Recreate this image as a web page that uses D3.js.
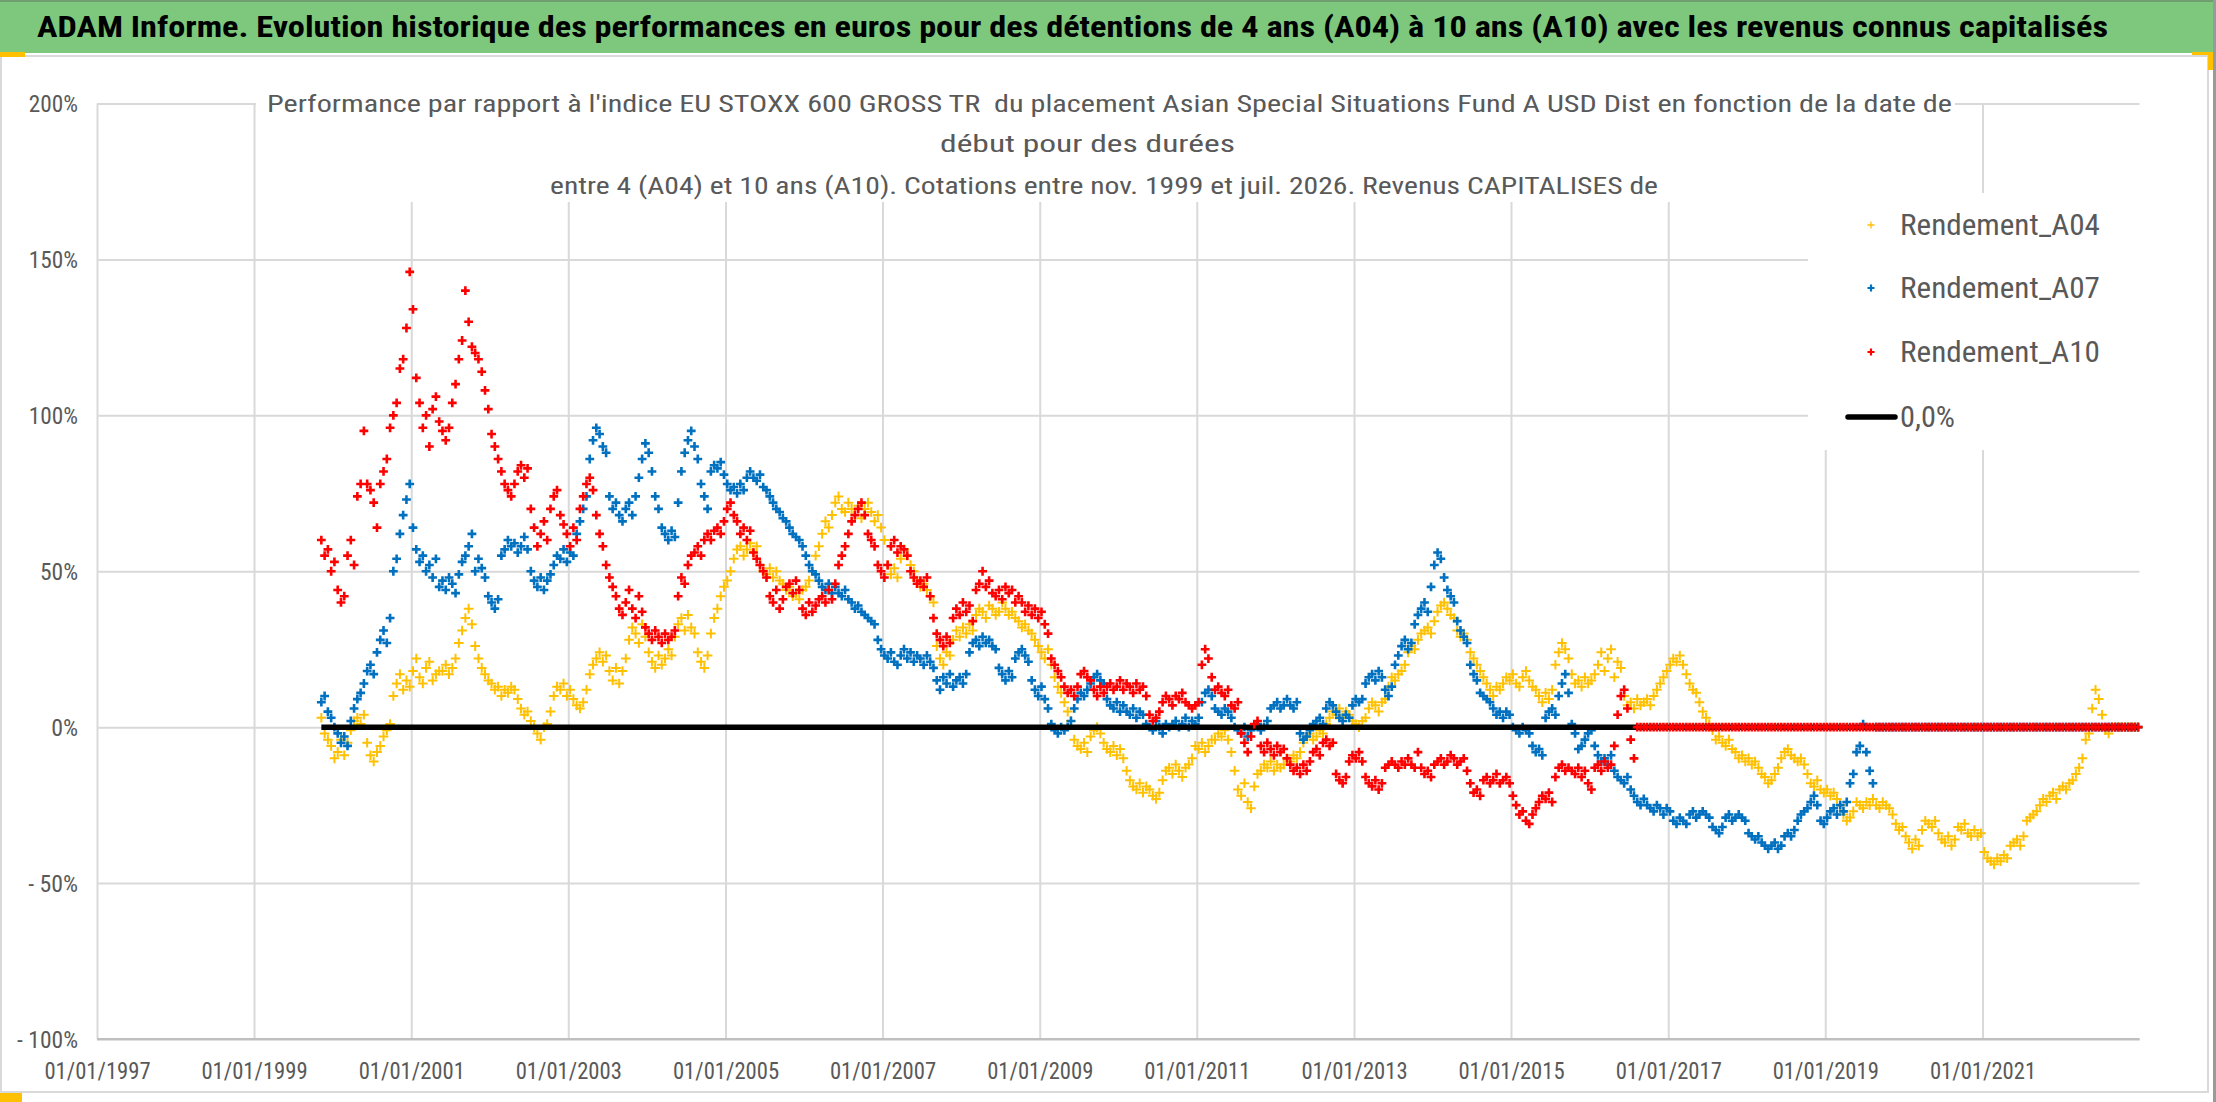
<!DOCTYPE html>
<html><head><meta charset="utf-8">
<script src="https://cdn.jsdelivr.net/npm/d3@7/dist/d3.min.js"></script>
<style>
html,body{margin:0;padding:0;background:#fff;}
svg{display:block;}
text{white-space:pre;}
</style></head>
<body>
<svg id="chart" width="2216" height="1102"></svg>
<script>
// ---------------- DATA ----------------
const titleText = "ADAM Informe. Evolution historique des performances en euros pour des détentions de 4 ans (A04) à 10 ans (A10) avec les revenus connus capitalisés";
const subtitleLines = [
  "Performance par rapport à l'indice EU STOXX 600 GROSS TR  du placement Asian Special Situations Fund A USD Dist en fonction de la date de",
  "début pour des durées",
  "entre 4 (A04) et 10 ans (A10). Cotations entre nov. 1999 et juil. 2026. Revenus CAPITALISES de"
];
const seriesNames = ["Rendement_A04", "Rendement_A07", "Rendement_A10"];
const zeroLineName = "0,0%";
const xTickLabels = ["1997-01-01","1999-01-01","2001-01-01","2003-01-01","2005-01-01","2007-01-01","2009-01-01","2011-01-01","2013-01-01","2015-01-01","2017-01-01","2019-01-01","2021-01-01"];
const yTickValues = [-100, -50, 0, 50, 100, 150, 200];
const xDomain = ["1997-01-01", "2023-01-01"];
const yDomain = [-100, 200];
// observations every half month from the first quotation
const firstObservation = "1999-11-10";
const observationStepDays = 365.25 / 24;

const rendementA04 = [
 3,-2,-4, -6,-10,-8,-4, -9,-5,-1,2, 3,1,4, -5,-9,-11,-8,-6,-3, -1,1,
 10,14,17,12,15,13, 18,22,16,14,19,21,15,17,18, 18,20,17,19,22, 27,31,35,38,33,
 26,22,19,17,15,14, 12,13,10,12,11,13,12,9, 6,4,5,2, 0,-2,-4,0,1,
 5,10,13,12,14,10,12,9, 7,6,8, 12,17,20,22,24,21,23,18, 15,19,14,18,22,
 28,32,30,27,33,29, 24,21,19,23,20,22,25,23, 29,33,35,31,36,32,30, 24,21,19,23,
 30,35,38,42,45,47,50, 54,57,58,55,57,59,56,58, 52,50,49,51,48,50,47,46,
 44,45,42,43,41,44,45, 47,50,55, 58,62,66,64,68,72,74,70,
 69,72,70,68,71,67,70,72,69,66,68,64,60, 52,49,51,48, 54,57,55,52,50,47,45, 46,44,42,40,
 26,22,20,24,23, 28,31,29,32,30,33,31, 36,38,37,35,39,38,36,37,40,38,36,37,35,34,32,
 33,31,30,28, 26,24,22,25,20,16, 13,11,8,5, 2,-4,-6,-7,-5,-8, -3,-1,0,-2,
 -5,-7,-8,-6,-9,-7,-10, -14,-17,-19,-20,-18,-21,-19,-20, -22,-23,-21,
 -17,-14,-13,-15,-12,-14,-16,-13,-12,-10, -6,-7,-5,-8,-6,-4, -4,-2,-3,-1,-4,
 -8,-14,-20,-22,-18,-24, -26,-19,-15,-14, -12,-13,-11,-14,-12,-13, -12,-10,-11,-9,-10,-8,-5,-3,
 -2,-4,-3,-1,-2,1, 3,5,4,6,3,5,4,2, 1,0,2,3, 6,8,7,5,8,9, 13,16,15,17,18,20,
 24,26,25,28,30, 31,32,30,34, 37,39,40,38,36,35, 31,29,30,28, 24,22,20,18,16,
 14,12,10,13,12,14, 16,15,17,14,13,16,18,15,13,12, 10,8,11,9,12, 20,24,27,25,22,
 17,14,15,13,16,14,15,17, 20,24,18,22,25,16,21,19, 10,7,8,6,9,7, 8,9,7,10,12,
 14,16,18,20,22, 21,23,20,17, 14,12,11,8,5, 3,1,-1,-4,-3, -5,-6,-4,-7,-8,
 -10,-9,-11,-10,-12,-11,-13,-15, -16,-18,-17,-15,-13,-10, -8,-7,-9,-10, -11,-10,-12,-15,
 -18,-19,-17,-20,-21,-20, -22,-21,-23,-25, -28,-30,-29,-27, -24,-25,-26,-24,-25,-23,-25,-26,-24,-25,-26,
 -28,-31,-33,-32, -35,-37,-39,-36,-38, -33,-30,-31,-32,-30, -34,-36,-37,-35,-38,-36, -32,-33,-31,
 -34,-35,-33,-35,-34, -40,-42,-43,-44,-42,-43,-41,-42, -38,-37,-36,-38,-35, -30,-29,-28,-27,
 -25,-23,-24,-22,-21,-23, -20,-19,-20,-18,-17, -15,-13,-10, -4,-2, 6,12,9,4, -1,-2,
 0,0,0,0,0,0,0,0,0
];

const rendementA07 = [
 8,10,5, 3,0,-2, -5,-3,-6, 2,6, 9,11,14, 18,20,17, 24,28,31, 27,35, 50,54, 62,68,73,78,
 64,57,53,55, 50,52,48,54, 45,47,44,48,46,43, 49,53,55,58,62,50,54,51,48, 42,40,38,41,
 55,57,60,58,59,56,58,61,57, 50,47,45,48,44,47,49,52, 55,54,57,53,56,55, 62,66,70,74,
 86,92,96,94,90,88, 74,70,72,68,66,70, 72,68,74, 80,86,91,88,82, 74,70, 64,62,60,63,61,72,
 82,88,92,95,90,86, 78,74,70, 82,84,83,85,81, 78,76,77,75,78,76,80, 82,80,79,81,77,76,
 74,72,70,69,67,66,64,62,61,60, 58,55,52,50,49,47, 45,44,46,43,
 45,43,42,44,41,40,38,39,37,36,35,34,33, 28,25,23,22,24,21,20, 23,25,22,24,21,23, 22,20,23,21,19,
 15,12,16,14,17,13,15,16,14,17, 24,27,28,26,29,27,28,26,25, 19,17,15,18,16, 22,24,25,23,21,
 15,12,10,13,9,6, 1,-1,-2,0,-1,0,2, 6,9,11,10,12,14, 16,17,15,14, 9,7,6,8,5,7, 5,4,6,3,5,4,
 1,0,-1,2,0,-2,1,0,1, 2,0,1,3,0,2,1,3, 8,11,12,10, 6,5,4,6,5,3, 0,-1,-2,0, -3,-1,0,1, -1,0,2,
 6,7,8,6,7,9,7,6,8, -2,-4,-3,-1, 1,2,3,1, 6,8,7,5, 3,2,4,3, 7,9,8,9, 14,16,17,15,18,16, 12,10,13,
 20,23,26,28,25,27, 33,36,38,40,37, 45,52,56,54, 48,44,42,40, 34,31,29,27, 20,17,15, 11,10,9,8,
 6,4,5,3,5,4, 0,-1,-2,0,-1,-2, -6,-8,-7,-9, 3,5,6,4, 10,14,17,11, 1,-2, -7,-6,-4,-2,-1,-6,
 -9,-11,-10,-12,-9, -14,-16,-17,-18,-16, -20,-22,-24,-25,-23, -25,-26,-27,-25,-26,-28,-26,-27,
 -30,-31,-29,-30,-31, -28,-27,-29,-28,-27,-28,-29, -32,-33,-34,-32, -29,-28,-30,-29,-28,-29,-30,
 -34,-35,-36,-35, -37,-38,-39,-38,-37,-39,-38, -35,-34,-35,-33, -30,-28,-27,-26, -24,-22,-25,
 -30,-31,-29, -27,-26,-28,-25,-27,-24, -18,-15, -8,-6, 1, -8,-14,-18,
 0,0,0,0,0,0,0,0,0,0, 0,0,0,0,0,0,0,0,0,0, 0,0,0,0,0,0,0,0,0,0, 0,0,0,0,0,0,0,0,0,0,
 0,0,0,0,0,0,0,0,0,0, 0,0,0,0,0,0,0,0,0,0, 0,0,0,0,0,0,0,0,0,0, 0,0,0,0,0,0,0,0,0,0, 0
];

const rendementA10 = [
 60,55,57, 50,53, 44,40,42, 55,60,52, 74,78,95, 78,76,72,64, 78,82,86, 96,100,104, 115,118, 128,146, 134,
 112,104,96,100,90, 102,106,98,95,92,96, 104,110,118,124, 140,130, 122,120,118,114, 108,102,
 94,90,86,82, 78,76,74,78, 82,84,80,83, 70,64,58,62, 66,60,70,74,76,68,65, 62,58,64,60,
 70,74,78,80,76, 68,62,58, 52,48,45, 42,38,36, 40,44,38,35,42,37, 32,30,28,31,29,27,30,28,29,31,
 42,48,46,52,55, 56,58,55,60,62, 60,63,64,62,66, 70,72,68,66, 62,64,60,63, 56,54,52,50,48,
 42,40,44,38,41, 45,46,43,47,44, 38,36,40,37,39,41, 42,40,44,41,46,52, 55,58,62,66,68,
 70,72,68,62, 60,58,52, 50,48,52, 58,60,56,58,57,55, 50,48,46,47,45,48, 42,35,30,28, 26,29,27,
 35,38,36,40,37,39,34, 44,46,50,45,47,43, 42,44,41,45,43,44,40,42, 40,37,39,36,38,35,37,33,30,
 22,20,18,16, 13,11,12,10,13, 17,18,16,15, 12,10,13,11, 13,14,12,13,15,12,14,13,11,14,12,13,10,
 4,2,3,5, 8,10,9,7,10,9,11,8,7, 6,7,8, 20,25,22,16, 12,13,11,10,12, 7,6,8, -2,-5,-8,-3, 1,2,
 -6,-8,-5,-7,-9,-6,-8,-7,-10, -12,-14,-13,-15,-12,-14,-11, -8,-7,-9, -5,-4,-6,-5, -15,-17,-18,-16,
 -11,-9,-10,-8,-11, -16,-18,-19,-17,-20,-18, -13,-12,-11,-12,-13,-11,-12,-10,-12,-13, -8,
 -13,-15,-14,-16, -12,-11,-10,-12,-11,-9,-10,-12,-11,-10, -14,-18,-21,-20,-22,
 -17,-16,-18,-17,-15,-18,-17,-16,-18, -22,-25,-28,-27,-30,-31,-28,-26, -24,-22,-23,-21,-24,
 -16,-13,-12,-14,-13, -14,-15,-13,-16,-14,-18,-20, -13,-12,-14,-11,-13,-12,-6, 4,10,12, 6,-4,-10,
 0,0,0,0,0,0,0,0,0,0, 0,0,0,0,0,0,0,0,0,0, 0,0,0,0,0,0,0,0,0,0, 0,0,0,0,0,0,0,0,0,0,
 0,0,0,0,0,0,0,0,0,0, 0,0,0,0,0,0,0,0,0,0, 0,0,0,0,0,0,0,0,0,0, 0,0,0,0,0,0,0,0,0,0,
 0,0,0,0,0,0,0,0,0,0, 0,0,0,0,0,0,0,0,0,0, 0,0,0,0,0,0,0,0,0,0, 0,0,0,0,0,0,0,0,0,0,
 0,0,0,0,0,0,0,0,0,0, 0,0,0,0,0,0,0,0,0,0, 0,0,0,0,0,0,0,0,0,0, 0,0,0,0
];
const zeroLineValue = 0;

// ---------------- LAYOUT ----------------
const W = 2216, H = 1102;
const plot = {left: 97, right: 2139.5, top: 103.5, bottom: 1039};
const FONT = "'Liberation Sans Narrow','Arial Narrow','Roboto Condensed','DejaVu Sans Condensed','Liberation Sans',sans-serif";
const GREY_TEXT = "#595959";
const colors = {A04: "#FFC000", A07: "#0070C0", A10: "#FF0000"};

const svg = d3.select("#chart");
svg.append("rect").attr("width", W).attr("height", H).attr("fill", "#fff");

const parse = d3.utcParse("%Y-%m-%d");
const x = d3.scaleUtc().domain(xDomain.map(parse)).range([plot.left, plot.right]);
const y = d3.scaleLinear().domain(yDomain).range([plot.bottom, plot.top]);

const t0 = parse(firstObservation).getTime();
const dateAt = i => new Date(t0 + i * observationStepDays * 86400000);
const toPoints = arr => arr.map((v, i) => ({date: dateAt(i), value: v}));
const pA04 = toPoints(rendementA04), pA07 = toPoints(rendementA07), pA10 = toPoints(rendementA10);

// Calibri-like advance widths for digit labels
const adv = {'0':.507,'1':.507,'2':.507,'3':.507,'4':.507,'5':.507,'6':.507,'7':.507,'8':.507,'9':.507,'%':.715,'/':.386,'-':.306,' ':.226,',':.25};
const calW = (s, fs) => s.split("").reduce((a, c) => a + (adv[c] || .5), 0) * fs;

// ---------------- CHART FRAME ----------------
svg.append("rect").attr("x", 0).attr("y", 0).attr("width", 2213).attr("height", 53).attr("fill", "#7DC87D");
svg.append("rect").attr("x", 0).attr("y", 0).attr("width", 2216).attr("height", 2).attr("fill", "#6f9e6f");
svg.append("text").attr("x", 37).attr("y", 37)
  .attr("font-family", FONT).attr("font-weight", "bold").attr("font-size", 29).attr("fill", "#000")
  .attr("textLength", 2071).attr("lengthAdjust", "spacingAndGlyphs").text(titleText);
svg.append("rect").attr("x", 1).attr("y", 56).attr("width", 2207).attr("height", 1036)
  .attr("fill", "none").attr("stroke", "#d9d9d9").attr("stroke-width", 2);
svg.append("line").attr("x1", 2214.5).attr("x2", 2214.5).attr("y1", 0).attr("y2", H).attr("stroke", "#9a9a9a").attr("stroke-width", 3);
svg.append("rect").attr("x", 0).attr("y", 52).attr("width", 25).attr("height", 5).attr("fill", "#FFC000");
svg.append("rect").attr("x", 2192).attr("y", 52).attr("width", 21).attr("height", 3).attr("fill", "#FFC000");
svg.append("rect").attr("x", 2208).attr("y", 52).attr("width", 5).attr("height", 18).attr("fill", "#FFC000");
svg.append("rect").attr("x", 0).attr("y", 1093).attr("width", 22).attr("height", 9).attr("fill", "#FFC000");

// ---------------- AXES / GRID ----------------
const yFmt = v => v < 0 ? "- " + (-v) + "%" : v + "%";
const gy = svg.append("g").attr("transform", `translate(${plot.left},0)`)
  .call(d3.axisLeft(y).tickValues(yTickValues).tickSize(-(plot.right - plot.left)).tickPadding(19).tickFormat(yFmt));
gy.select(".domain").remove();
gy.selectAll(".tick line").attr("stroke", d => d === -100 ? "#bfbfbf" : "#d9d9d9").attr("stroke-width", 2);
gy.selectAll(".tick text").attr("font-family", FONT).attr("font-size", 23).attr("fill", GREY_TEXT)
  .attr("dy", "0.35em")
  .attr("textLength", d => calW(yFmt(d), 22)).attr("lengthAdjust", "spacingAndGlyphs");

const xFmt = d3.utcFormat("%d/%m/%Y");
const gx = svg.append("g").attr("transform", `translate(0,${plot.bottom})`)
  .call(d3.axisBottom(x).tickValues(xTickLabels.map(parse)).tickSize(-(plot.bottom - plot.top)).tickFormat(xFmt));
gx.select(".domain").remove();
gx.selectAll(".tick line").attr("stroke", "#d9d9d9").attr("stroke-width", 2);
gx.selectAll(".tick text").attr("font-family", FONT).attr("font-size", 23).attr("fill", GREY_TEXT)
  .attr("y", 40).attr("dy", 0)
  .attr("textLength", d => calW(xFmt(d), 22)).attr("lengthAdjust", "spacingAndGlyphs");
svg.append("line").attr("x1", plot.left).attr("x2", plot.right).attr("y1", plot.bottom).attr("y2", plot.bottom)
  .attr("stroke", "#bfbfbf").attr("stroke-width", 2);

// ---------------- TITLE BOX & LEGEND BOX ----------------
svg.append("rect").attr("x", 256).attr("y", 86).attr("width", 1699).attr("height", 116).attr("fill", "#fff");
svg.append("rect").attr("x", 1808).attr("y", 193).attr("width", 332).attr("height", 257).attr("fill", "#fff");

const subPos = [{x: 267, y: 112, w: 1685}, {x: 940, y: 152, w: 295}, {x: 550, y: 194, w: 1108}];
subtitleLines.forEach((s, i) => {
  svg.append("text").attr("x", subPos[i].x).attr("y", subPos[i].y)
    .attr("font-family", FONT).attr("font-size", 23).attr("fill", GREY_TEXT)
    .attr("textLength", subPos[i].w).attr("lengthAdjust", "spacingAndGlyphs").text(s);
});

// ---------------- DATA MARKS ----------------
const plusPath = (pts, h) => pts.map(d => {
  const cx = x(d.date), cy = y(d.value);
  return `M${(cx - h).toFixed(2)},${cy.toFixed(2)}H${(cx + h).toFixed(2)}M${cx.toFixed(2)},${(cy - h).toFixed(2)}V${(cy + h).toFixed(2)}`;
}).join("");

const gData = svg.append("g");
gData.append("path").attr("d", plusPath(pA04, 4.8)).attr("fill", "none").attr("stroke", colors.A04).attr("stroke-width", 2);
gData.append("path").attr("d", plusPath(pA07, 4.4)).attr("fill", "none").attr("stroke", colors.A07).attr("stroke-width", 2.6);
const zeroPts = [pA04[0].date, pA04[pA04.length - 1].date];
gData.append("path").attr("d", d3.line().x(d => x(d)).y(() => y(zeroLineValue))(zeroPts))
  .attr("fill", "none").attr("stroke", "#000").attr("stroke-width", 5.5);
gData.append("path").attr("d", plusPath(pA10, 4.4)).attr("fill", "none").attr("stroke", colors.A10).attr("stroke-width", 2.6);

// ---------------- LEGEND ----------------
const leg = svg.append("g");
const legRows = [
  {name: seriesNames[0], color: colors.A04, sw: 1.3, ty: 235, my: 225},
  {name: seriesNames[1], color: colors.A07, sw: 2.2, ty: 298, my: 288},
  {name: seriesNames[2], color: colors.A10, sw: 2.2, ty: 362, my: 352}
];
legRows.forEach(r => {
  leg.append("path").attr("d", `M${1867.5},${r.my}H${1874.5}M${1871},${r.my - 3.5}V${r.my + 3.5}`)
    .attr("stroke", r.color).attr("stroke-width", r.sw).attr("fill", "none");
  leg.append("text").attr("x", 1900).attr("y", r.ty).attr("font-family", FONT).attr("font-size", 30)
    .attr("fill", GREY_TEXT).attr("textLength", 200).attr("lengthAdjust", "spacingAndGlyphs").text(r.name);
});
leg.append("line").attr("x1", 1848).attr("x2", 1895).attr("y1", 417).attr("y2", 417)
  .attr("stroke", "#000").attr("stroke-width", 5.5).attr("stroke-linecap", "round");
leg.append("text").attr("x", 1900).attr("y", 427).attr("font-family", FONT).attr("font-size", 30)
  .attr("fill", GREY_TEXT).attr("textLength", 55).attr("lengthAdjust", "spacingAndGlyphs").text(zeroLineName);
</script>
</body></html>
